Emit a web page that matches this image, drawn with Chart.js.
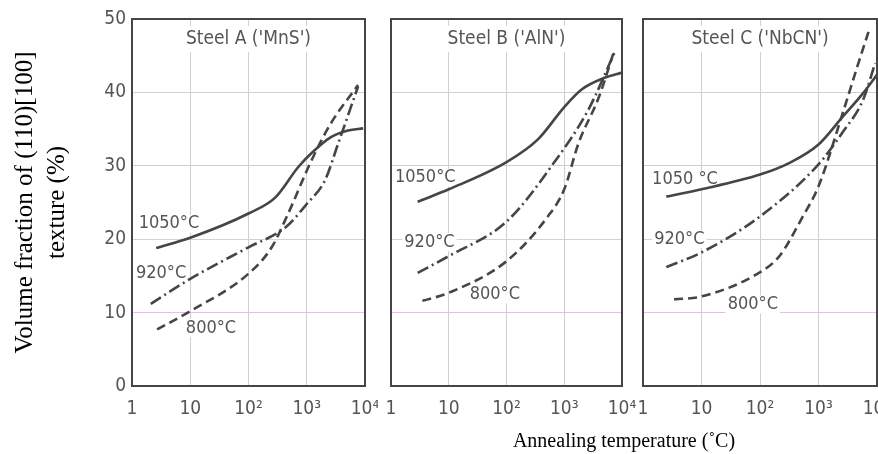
<!DOCTYPE html>
<html>
<head>
<meta charset="utf-8">
<script src="https://cdn.jsdelivr.net/npm/chart.js@4"></script>
<style>
  body { margin: 0; background: #fff; width: 878px; height: 454px; overflow: hidden; position: relative; }
  canvas { position: absolute; top: 0; }
  #xtitle { position: absolute; top: 429px; left: 624px; transform: translateX(-50%); white-space: nowrap;
            font-family: "Liberation Serif", "Times New Roman", serif; font-size: 20px; color: #000; }
</style>
</head>
<body>
<canvas id="chartA" width="378" height="454" style="left:0px"></canvas>
<canvas id="chartB" width="264" height="454" style="left:378px"></canvas>
<canvas id="chartC" width="248" height="454" style="left:630px"></canvas>
<div id="xtitle">Annealing temperature (˚C)</div>
<script>
// valeurs (temps en x, fraction en %)
const xTicks = [1, 10, 100, 1000, 10000];
const xTickLabels = ["1", "10", "10²", "10³", "10⁴"];
const yTitle = ["Volume fraction of (110)[100]", "texture (%)"];
const seriesNames = ["1050°C", "920°C", "800°C"];

// Steel A
const a1050x = [2.6, 10, 100, 290, 710, 1200, 2600, 5100, 9300];
const a1050y = [18.8, 20.2, 23.5, 25.7, 29.8, 31.7, 33.9, 34.8, 35.1];
const a920x = [2.1, 10, 100, 430, 1000, 2050, 3450, 7600];
const a920y = [11.2, 14.6, 18.9, 21.6, 24.8, 28, 33, 40.8];
const a800x = [2.7, 10, 100, 250, 480, 1200, 2600, 7600];
const a800y = [7.7, 10.2, 15.3, 18.9, 23.5, 30.7, 35.8, 41];

// Steel B
const b1050x = [2.9, 10, 100, 350, 1000, 2000, 5000, 10000];
const b1050y = [25.1, 26.8, 30.5, 33.6, 38, 40.4, 42, 42.7];
const b920x = [2.9, 10, 100, 660, 2600, 7500];
const b920y = [15.4, 17.7, 22.4, 30.4, 37.6, 45.5];
const b800x = [3.5, 10, 100, 520, 1000, 1770, 4000, 7200];
const b800y = [11.6, 12.7, 17, 23.1, 26.8, 33.1, 39.4, 45.5];

// Steel C
const c1050x = [2.5, 10, 100, 320, 1000, 2600, 5800, 10000];
const c1050y = [25.8, 26.8, 28.8, 30.4, 32.9, 36.7, 39.9, 42.4];
const c920x = [2.5, 10, 100, 1000, 2600, 5800, 9300];
const c920y = [16.2, 18.2, 23.1, 30.2, 34.6, 39, 44];
const c800x = [3.4, 10, 100, 215, 540, 1000, 2600, 4600, 7600];
const c800y = [11.8, 12.2, 15.5, 17.7, 23.1, 27.2, 37.2, 43.5, 48.9];

// titres des panneaux et étiquettes des courbes [texte, x, y]
const panelTitles = ["Steel A ('MnS')", "Steel B ('AlN')", "Steel C ('NbCN')"];
const labelsA = [["1050°C", 1.3, 22.1], ["920°C", 1.17, 15.3], ["800°C", 8.4, 7.9]];
const labelsB = [["1050°C", 1.17, 28.4], ["920°C", 1.7, 19.6], ["800°C", 23, 12.5]];
const labelsC = [["1050 °C", 1.43, 28.1], ["920°C", 1.55, 20], ["800°C", 28, 11.1]];

const FONT_NARROW = "'Liberation Sans Narrow', 'DejaVu Sans Condensed', sans-serif";
const INK = "#454545";

function pts(xs, ys) {
	return xs.map((x, i) => ({ x: x, y: ys[i] }));
}

// petit plugin pour le cadre, le titre et les étiquettes
const panelDeco = {
	id: "panelDeco",
	beforeDatasetsDraw(chart, args, opts) {
		const c = chart.ctx;
		const xs = chart.scales.x, ys = chart.scales.y;
		c.save();
		c.font = "19px " + FONT_NARROW;
		c.textBaseline = "middle";
		// titre
		c.textAlign = "center";
		const cx = (chart.chartArea.left + chart.chartArea.right) / 2;
		const ty = ys.getPixelForValue(47.3);
		const tw = c.measureText(opts.title).width;
		c.fillStyle = "#fff";
		c.fillRect(cx - tw / 2 - 4, ty - 13, tw + 8, 26);
		c.fillStyle = "#555";
		c.fillText(opts.title, cx, ty);
		// étiquettes
		c.textAlign = "left";
		c.font = "18px " + FONT_NARROW;
		opts.labels.forEach((l) => {
			const px = xs.getPixelForValue(l[1]);
			const py = ys.getPixelForValue(l[2]);
			const w = c.measureText(l[0]).width;
			c.fillStyle = "#fff";
			c.fillRect(px - 2, py - 9, w + 4, 18);
			c.fillStyle = "#555";
			c.fillText(l[0], px, py);
		});
		c.restore();
	},
	afterDraw(chart) {
		const a = chart.chartArea;
		const c = chart.ctx;
		c.save();
		c.strokeStyle = INK;
		c.lineWidth = 2;
		c.strokeRect(a.left, a.top, a.right - a.left, a.bottom - a.top);
		c.restore();
	}
};

function gridColor(ctx) {
	if (ctx.tick && ctx.tick.value === 10) return "#e6bde6";
	if (ctx.tick && ctx.tick.value === 20) return "#bfe0b8";
	return "#cfcfcf";
}

function makeChart(id, sets, title, labels, showY, padding) {
	const styles = [[], [12, 4, 2, 4], [9, 5]];
	const datasets = sets.map((s, i) => ({
		label: seriesNames[i],
		data: s,
		borderColor: INK,
		borderWidth: 2.6,
		borderDash: styles[i],
		pointRadius: 0,
		fill: false,
		cubicInterpolationMode: "monotone"
	}));

	return new Chart(document.getElementById(id), {
		type: "line",
		data: { datasets: datasets },
		options: {
			responsive: false,
			animation: false,
			devicePixelRatio: 1,
			layout: { padding: padding },
			plugins: {
				legend: { display: false },
				tooltip: { enabled: false },
				panelDeco: { title: title, labels: labels }
			},
			scales: {
				x: {
					type: "logarithmic",
					min: 1,
					max: 10000,
					border: { display: false },
					grid: { color: "#cfcfcf", drawTicks: false, lineWidth: 1 },
					ticks: {
						color: "#555",
						padding: 12,
						maxRotation: 0,
						autoSkip: false,
						font: { family: FONT_NARROW, size: 19 },
						callback: (v) => xTickLabels[xTicks.indexOf(v)]
					},
					afterBuildTicks: (s) => { s.ticks = xTicks.map((v) => ({ value: v })); },
					afterFit: (s) => { s.height = 68; s.paddingLeft = 0; s.paddingRight = 0; }
				},
				y: {
					min: 0,
					max: 50,
					border: { display: false },
					grid: { color: gridColor, drawTicks: false, lineWidth: 1 },
					ticks: {
						display: showY,
						stepSize: 10,
						color: "#555",
						padding: 6,
						font: { family: FONT_NARROW, size: 19 }
					},
					title: {
						display: showY,
						text: yTitle,
						color: "#000",
						padding: { top: 9, bottom: 0 },
						font: { family: "'Liberation Serif', 'Times New Roman', serif", size: 25, lineHeight: "32px" }
					},
					afterFit: (s) => { s.width = showY ? 132 : 0; s.paddingTop = 0; s.paddingBottom = 0; }
				}
			}
		},
		plugins: [panelDeco]
	});
}

makeChart("chartA", [pts(a1050x, a1050y), pts(a920x, a920y), pts(a800x, a800y)],
	panelTitles[0], labelsA, true, { top: 19, right: 13, bottom: 0, left: 0 });
makeChart("chartB", [pts(b1050x, b1050y), pts(b920x, b920y), pts(b800x, b800y)],
	panelTitles[1], labelsB, false, { top: 19, right: 20, bottom: 0, left: 13 });
makeChart("chartC", [pts(c1050x, c1050y), pts(c920x, c920y), pts(c800x, c800y)],
	panelTitles[2], labelsC, false, { top: 19, right: 1, bottom: 0, left: 13 });
</script>
</body>
</html>
